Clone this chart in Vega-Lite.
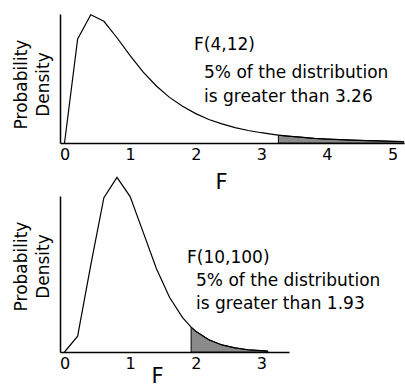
{
  "$schema": "https://vega.github.io/schema/vega-lite/v6.json",
  "padding": {"left": 12, "top": 12, "right": 0, "bottom": 0},
  "background": "white",
  "datasets": {
    "top": [
      {"F": 0, "density": 0},
      {"F": 0.2, "density": 0.557},
      {"F": 0.4, "density": 0.686},
      {"F": 0.6, "density": 0.651},
      {"F": 0.8, "density": 0.563},
      {"F": 1.0, "density": 0.467},
      {"F": 1.2, "density": 0.379},
      {"F": 1.4, "density": 0.305},
      {"F": 1.6, "density": 0.244},
      {"F": 1.8, "density": 0.196},
      {"F": 2.0, "density": 0.157},
      {"F": 2.2, "density": 0.126},
      {"F": 2.4, "density": 0.102},
      {"F": 2.6, "density": 0.082},
      {"F": 2.8, "density": 0.067},
      {"F": 3.0, "density": 0.055},
      {"F": 3.2, "density": 0.045},
      {"F": 3.26, "density": 0.042},
      {"F": 3.4, "density": 0.037},
      {"F": 3.6, "density": 0.031},
      {"F": 3.8, "density": 0.025},
      {"F": 4.0, "density": 0.021},
      {"F": 4.2, "density": 0.018},
      {"F": 4.4, "density": 0.015},
      {"F": 4.6, "density": 0.013},
      {"F": 4.8, "density": 0.011},
      {"F": 5.0, "density": 0.009},
      {"F": 5.17, "density": 0.008}
    ],
    "bottom": [
      {"F": 0, "density": 0},
      {"F": 0.2, "density": 0.085},
      {"F": 0.4, "density": 0.468},
      {"F": 0.6, "density": 0.831},
      {"F": 0.8, "density": 0.94},
      {"F": 1.0, "density": 0.837},
      {"F": 1.2, "density": 0.644},
      {"F": 1.4, "density": 0.45},
      {"F": 1.6, "density": 0.295},
      {"F": 1.8, "density": 0.185},
      {"F": 1.93, "density": 0.134},
      {"F": 2.0, "density": 0.112},
      {"F": 2.2, "density": 0.066},
      {"F": 2.4, "density": 0.038},
      {"F": 2.6, "density": 0.022},
      {"F": 2.8, "density": 0.012},
      {"F": 3.0, "density": 0.007},
      {"F": 3.1, "density": 0.005}
    ],
    "topText": [
      {"F": 1.974, "density": 0.497, "label": "F(4,12)"},
      {"F": 2.127, "density": 0.348, "label": "5% of the distribution"},
      {"F": 2.127, "density": 0.219, "label": "is greater than 3.26"}
    ],
    "bottomText": [
      {"F": 1.867, "density": 0.479, "label": "F(10,100)"},
      {"F": 2.005, "density": 0.355, "label": "5% of the distribution"},
      {"F": 2.005, "density": 0.232, "label": "is greater than 1.93"}
    ]
  },
  "vconcat": [
    {
      "width": 344,
      "height": 129,
      "encoding": {
        "x": {"field": "F", "type": "quantitative",
          "scale": {"domain": [-0.069, 5.175], "nice": false, "zero": false},
          "axis": {"values": [0, 1, 2, 3, 4, 5], "title": "F", "titleX": 161, "titleY": 45}},
        "y": {"field": "density", "type": "quantitative",
          "scale": {"domain": [0, 0.69], "nice": false},
          "axis": {"labels": false, "title": ["Probability", "Density"], "titleY": 70}}
      },
      "layer": [
        {
          "data": {"name": "top"},
          "transform": [{"filter": "datum.F >= 3.26"}],
          "mark": {"type": "area", "fill": "#8a8a8a", "stroke": "black", "strokeWidth": 1}
        },
        {
          "data": {"name": "top"},
          "mark": {"type": "line", "color": "black", "strokeWidth": 1.2}
        },
        {
          "data": {"name": "topText"},
          "mark": {"type": "text", "align": "left", "baseline": "alphabetic", "font": "DejaVu Sans", "fontSize": 17, "color": "black"},
          "encoding": {"text": {"field": "label"}}
        }
      ]
    },
    {
      "width": 229,
      "height": 156,
      "encoding": {
        "x": {"field": "F", "type": "quantitative",
          "scale": {"domain": [-0.069, 3.422], "nice": false, "zero": false},
          "axis": {"values": [0, 1, 2, 3], "title": "F", "titleX": 97, "titleY": 30}},
        "y": {"field": "density", "type": "quantitative",
          "scale": {"domain": [0, 0.84], "nice": false},
          "axis": {"labels": false, "title": ["Probability", "Density"], "titleY": 70}}
      },
      "layer": [
        {
          "data": {"name": "bottom"},
          "transform": [{"filter": "datum.F >= 1.93"}],
          "mark": {"type": "area", "fill": "#8a8a8a", "stroke": "black", "strokeWidth": 1}
        },
        {
          "data": {"name": "bottom"},
          "mark": {"type": "line", "color": "black", "strokeWidth": 1.2}
        },
        {
          "data": {"name": "bottomText"},
          "mark": {"type": "text", "align": "left", "baseline": "alphabetic", "font": "DejaVu Sans", "fontSize": 17, "color": "black"},
          "encoding": {"text": {"field": "label"}}
        }
      ]
    }
  ],
  "spacing": 53,
  "bounds": "flush",
  "config": {
    "view": {"stroke": null},
    "axis": {
      "grid": false,
      "ticks": false,
      "domainColor": "black",
      "domainWidth": 1.5,
      "labelFont": "DejaVu Sans",
      "labelFontSize": 16,
      "labelColor": "black",
      "labelPadding": 3,
      "titleFont": "DejaVu Sans",
      "titleColor": "black",
      "titleFontWeight": "normal"
    },
    "axisX": {"titleFontSize": 21, "titleBaseline": "alphabetic", "titleAlign": "center", "labelFlush": false},
    "axisY": {"titleFontSize": 17, "titleAngle": 270, "titleAlign": "center", "titleBaseline": "alphabetic", "titleX": -34, "titleLineHeight": 22}
  }
}
